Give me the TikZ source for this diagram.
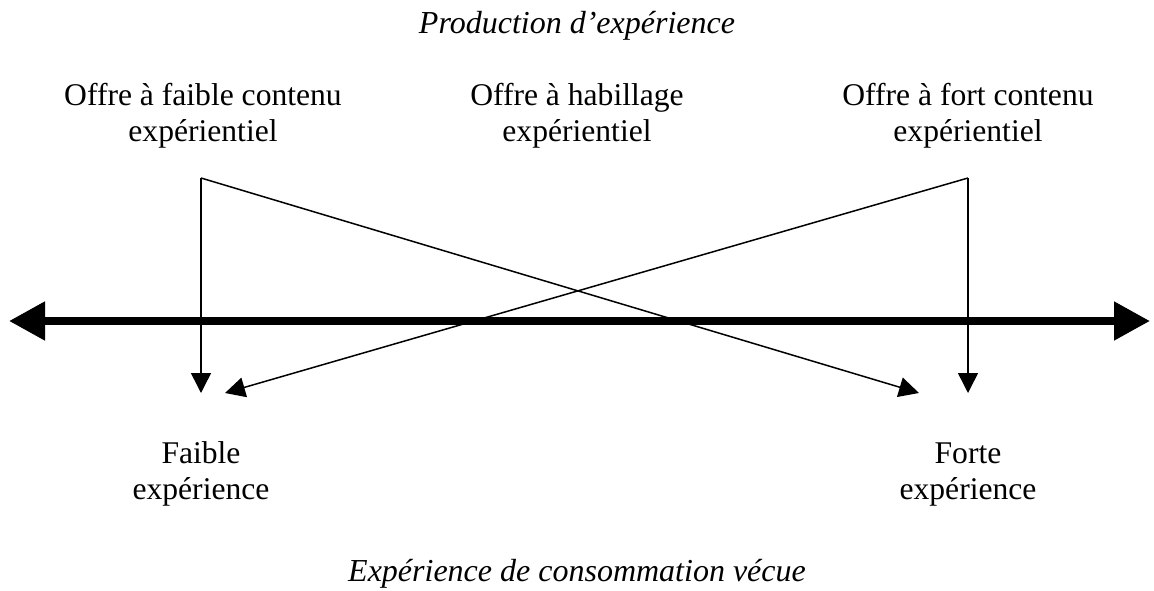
\documentclass[tikz,border=0pt]{standalone}
\usepackage{fontspec}
\setmainfont{Liberation Serif}
\usetikzlibrary{arrows.meta,positioning,calc}

\begin{document}
\begin{tikzpicture}[x=1pt,y=-1pt,
  lbl/.style={align=center, font=\fontsize{31.6}{36}\selectfont, anchor=base, inner sep=0pt},
  ttl/.style={lbl, font=\fontsize{32}{36}\selectfont\itshape},
  fleche/.style={line width=1.5pt, -{Triangle[length=20pt,width=20pt]}},
  axe/.style={line width=8pt, {Triangle[length=36pt,width=37pt]}-{Triangle[length=36pt,width=37pt]}}]
  \useasboundingbox (0,0) rectangle (1154,591);
  % titres
  \node[ttl] (prod) at (577,34) {Production d'expérience};
  \node[ttl] (vecue) at (577,581) {Expérience de consommation vécue};
  % offres
  \node[lbl] (faible) at (203,142) {Offre à faible contenu\\expérientiel};
  \node[lbl] (habil) at (577,142) {Offre à habillage\\expérientiel};
  \node[lbl] (fort) at (968,142) {Offre à fort contenu\\expérientiel};
  % experience vecue
  \node[lbl] (bas) at (201,499) {Faible\\expérience};
  \node[lbl] (haut) at (968,499) {Forte\\expérience};
  % points des fleches
  \coordinate (g1) at (201,178);
  \coordinate (g2) at (201,393);
  \coordinate (gx) at (225,393);
  \coordinate (d1) at (968,178);
  \coordinate (d2) at (968,393);
  \coordinate (dx) at (919,393);
  \coordinate (axg) at (9,321);
  \coordinate (axd) at (1150,321);
  \draw[axe] (axg) -- (axd);
  \draw[fleche] (g1) -- (g2);
  \draw[fleche] (g1) -- (dx);
  \draw[fleche] (d1) -- (d2);
  \draw[fleche] (d1) -- (gx);
\end{tikzpicture}
\end{document}
